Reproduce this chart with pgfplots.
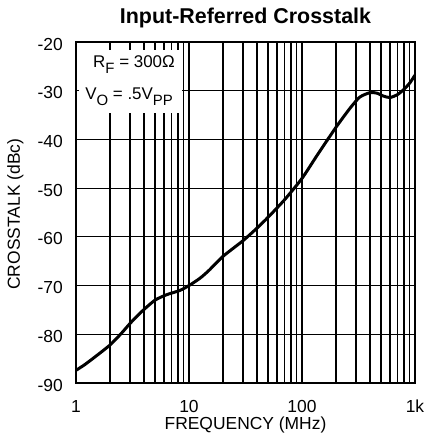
\documentclass[border=0pt]{standalone}
\usepackage{fontspec}
\setmainfont{Liberation Sans}
\usepackage{pgfplots}
\usepackage{pgfplotstable}
\pgfplotsset{compat=1.18}
\pgfplotstableread{
f db
1 -87.4
1.2 -86.2
1.5 -84.5
2 -82.2
2.5 -79.9
3 -77.8
3.5 -76.2
4 -74.9
5 -73.0
6.3 -71.9
8.3 -71.0
10 -70.0
12.5 -68.5
15 -66.9
20 -64.0
30 -60.8
40 -58.2
50 -56.0
70 -52.4
100 -48.0
134 -43.5
200 -37.5
266 -33.6
325 -31.3
400 -30.4
460 -30.5
525 -31.1
600 -31.4
700 -30.8
800 -29.7
900 -28.4
1000 -26.8
}\crosstalk
\begin{document}
\begin{tikzpicture}
\begin{axis}[
  xmode=log, log basis x=10,
  scale only axis, width=339bp, height=341bp,
  xmin=1, xmax=1000, ymin=-90, ymax=-20,
  xtick={1,10,100,1000}, xticklabels={1,10,100,1k},
  ytick={-90,-80,-70,-60,-50,-40,-30,-20},
  yticklabels={-90,-80,-70,-60,-50,-40,-30,-20},
  minor xtick={2,3,4,5,6,7,8,9,20,30,40,50,60,70,80,90,200,300,400,500,600,700,800,900},
  grid=both,
  major grid style={black, line width=1.2bp},
  minor grid style={black, line width=1.2bp},
  axis line style={black, line width=2bp},
  major tick length=0pt, minor tick length=0pt,
  tick style={draw=none},
  tick label style={font=\fontsize{17.5}{17.5}\selectfont, inner sep=0pt},
  xticklabel style={anchor=base, yshift=-29.7bp},
  yticklabel style={anchor=east, xshift=-13bp, yshift=-2bp},
  xlabel={FREQUENCY (MHz)},
  ylabel={CROSSTALK (dBc)},
  label style={font=\fontsize{17.5}{17.5}\selectfont, inner sep=0pt},
  xlabel style={at={(axis description cs:0.5,-0.1349)}, anchor=base},
  ylabel style={at={(axis description cs:-0.1652,0.495)}, anchor=base, rotate=0},
  title={Input-Referred Crosstalk},
  title style={font=\bfseries\fontsize{21.5}{21.5}\selectfont, inner sep=0pt, at={(axis description cs:0.5,1.037)}, anchor=base},
]
\coordinate (LL) at (rel axis cs:0,0);
\coordinate (UR) at (rel axis cs:1,1);
\fill[white] (axis cs:1.06,-21.6) rectangle (axis cs:8.6,-34.6);
\node[font=\fontsize{17}{17}\selectfont, anchor=center] at (axis cs:3.26,-24.6) {R\raisebox{-6bp}{\fontsize{15}{15}\selectfont F} = 300Ω};
\node[font=\fontsize{17}{17}\selectfont, anchor=center] at (axis cs:2.95,-31.2) {V\raisebox{-6bp}{\fontsize{15}{15}\selectfont O} = .5V\raisebox{-6bp}{\fontsize{15}{15}\selectfont PP}};
\addplot[black, line width=3bp, smooth, tension=0.4, line join=round, line cap=round] table[x=f, y=db] {\crosstalk};
\end{axis}
\pgfresetboundingbox
\path ([xshift=-76bp, yshift=-58bp]LL) rectangle ([xshift=11bp, yshift=42bp]UR);
\end{tikzpicture}
\end{document}
